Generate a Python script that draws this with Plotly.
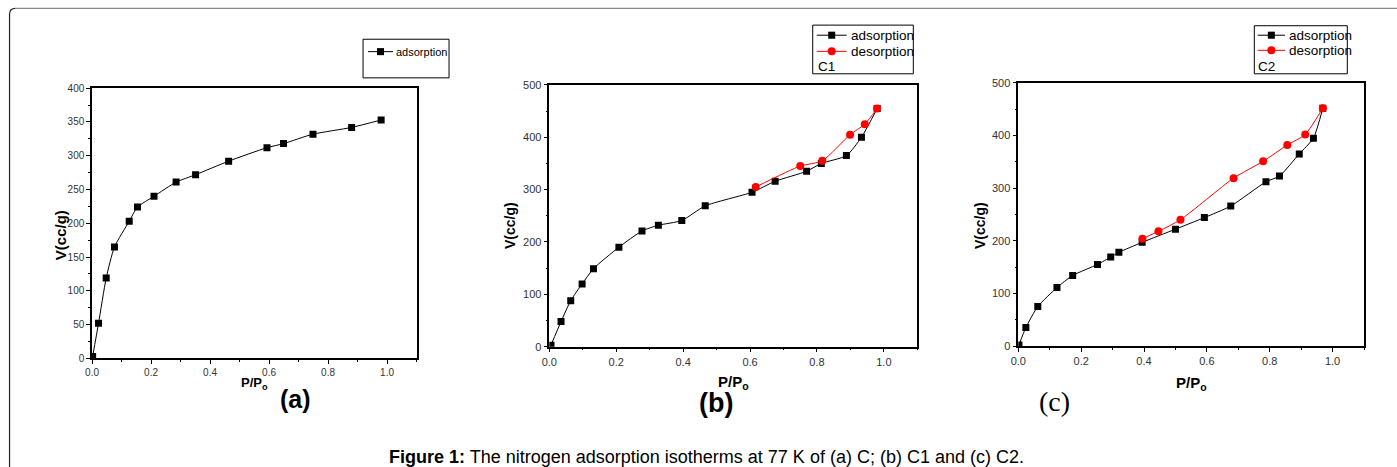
import plotly.graph_objects as go

# Target picture size. The page is photographed with the default 8 px body offset and
# scaled from a 1405x483 region, so target pixels are mapped back to figure pixels.
W, H = 1397, 467
OFF = 8
CAP_W, CAP_H = 1405, 483
FW, FH = CAP_W - OFF, CAP_H - OFF

# ---------------- data ----------------
# (a) sample C
a_ads_x = [0.002, 0.022, 0.048, 0.076, 0.126, 0.154, 0.210, 0.285, 0.351, 0.463, 0.593, 0.649, 0.749, 0.880, 0.980]
a_ads_y = [3, 52, 119, 165, 203, 224, 240, 261, 272, 292, 312, 318, 332, 342, 353]

# (b) sample C1
b_ads_x = [0.005, 0.035, 0.064, 0.098, 0.132, 0.208, 0.277, 0.326, 0.396, 0.466, 0.606, 0.675, 0.769, 0.813, 0.888, 0.933, 0.980]
b_ads_y = [3, 48, 88, 120, 149, 190, 221, 232, 241, 269, 295, 316, 335, 350, 365, 400, 455]
b_des_x = [0.980, 0.943, 0.899, 0.816, 0.750, 0.617]
b_des_y = [455, 425, 405, 355, 345, 305]

# (c) sample C2
c_ads_x = [0.002, 0.024, 0.062, 0.123, 0.173, 0.252, 0.294, 0.320, 0.394, 0.500, 0.592, 0.676, 0.788, 0.831, 0.894, 0.939, 0.969]
c_ads_y = [2, 35, 75, 111, 134, 155, 169, 178, 197, 222, 244, 266, 312, 323, 365, 395, 452]
c_des_x = [0.969, 0.913, 0.856, 0.779, 0.685, 0.516, 0.446, 0.395]
c_des_y = [452, 402, 382, 351, 319, 240, 218, 204]

x_ticks = [0.0, 0.2, 0.4, 0.6, 0.8, 1.0]
x_tick_labels = ["0.0", "0.2", "0.4", "0.6", "0.8", "1.0"]
a_y_ticks = [0, 50, 100, 150, 200, 250, 300, 350, 400]
bc_y_ticks = [0, 100, 200, 300, 400, 500]

series_names = ["adsorption", "desorption"]
sample_names = ["C1", "C2"]
caption = "<b>Figure 1:</b> The nitrogen adsorption isotherms at 77 K of (a) C; (b) C1 and (c) C2."

# ---------------- helpers ----------------
def px(x):
    return (x * CAP_W / W - OFF) / FW

def py(y):
    return 1 - (y * CAP_H / H - OFF) / FH

ARIAL = "Liberation Sans, Arial, sans-serif"
RED = "#ff0000"

fig = go.Figure()

line_ads = dict(color="black", width=1, shape="spline", smoothing=0.6)
line_des = dict(color=RED, width=1, shape="spline", smoothing=0.6)
m_sq = dict(symbol="square", size=7, color="black")
m_ci = dict(symbol="circle", size=8, color=RED)

fig.add_trace(go.Scatter(x=a_ads_x, y=a_ads_y, mode="lines+markers", name=series_names[0],
                         line=line_ads, marker=m_sq, xaxis="x", yaxis="y"))
fig.add_trace(go.Scatter(x=b_ads_x, y=b_ads_y, mode="lines+markers", name=series_names[0],
                         line=line_ads, marker=m_sq, xaxis="x2", yaxis="y2"))
fig.add_trace(go.Scatter(x=b_des_x, y=b_des_y, mode="lines+markers", name=series_names[1],
                         line=line_des, marker=m_ci, xaxis="x2", yaxis="y2"))
fig.add_trace(go.Scatter(x=c_ads_x, y=c_ads_y, mode="lines+markers", name=series_names[0],
                         line=line_ads, marker=m_sq, xaxis="x3", yaxis="y3"))
fig.add_trace(go.Scatter(x=c_des_x, y=c_des_y, mode="lines+markers", name=series_names[1],
                         line=line_des, marker=m_ci, xaxis="x3", yaxis="y3"))

def xaxis(dom, anchor, font):
    return dict(domain=dom, anchor=anchor, range=[0, 1.1], tickvals=x_ticks, ticktext=x_tick_labels,
                showline=True, mirror=True, linecolor="black", linewidth=1.5,
                ticks="outside", ticklen=4, tickwidth=1, tickcolor="black",
                minor=dict(ticks="outside", ticklen=2, tickwidth=1, tickcolor="black", dtick=0.1, tick0=0),
                showgrid=False, zeroline=False, tickfont=font)

def yaxis(dom, anchor, rng, tv, dt, font):
    return dict(domain=dom, anchor=anchor, range=rng, tickvals=tv,
                showline=True, mirror=True, linecolor="black", linewidth=1.5,
                ticks="outside", ticklen=4, tickwidth=1, tickcolor="black",
                minor=dict(ticks="outside", ticklen=2, tickwidth=1, tickcolor="black", dtick=dt, tick0=0),
                showgrid=False, zeroline=False, tickfont=font)

fa = dict(family=ARIAL, size=10, color="#333")
fb = dict(family=ARIAL, size=11, color="#333")

fig.update_layout(
    width=FW, height=FH, margin=dict(l=0, r=0, t=0, b=0),
    paper_bgcolor="white", plot_bgcolor="white", showlegend=False,
    xaxis=xaxis([px(92), px(416.5)], "y", fa),
    yaxis=yaxis([py(357.3), py(89.3)], "x", [0, 400], a_y_ticks, 25, fa),
    xaxis2=xaxis([px(549.3), px(917.3)], "y2", fb),
    yaxis2=yaxis([py(345.7), py(86)], "x2", [0, 500], bc_y_ticks, 50, fb),
    xaxis3=xaxis([px(1018.3), px(1364)], "y3", fb),
    yaxis3=yaxis([py(345), py(84)], "x3", [0, 500], bc_y_ticks, 50, fb),
)

shapes = []
ann = []

def A(text, x, y, size, family=ARIAL, angle=0, color="black", xanchor="center"):
    ann.append(dict(text=text, x=px(x), y=py(y), xref="paper", yref="paper", showarrow=False,
                    xanchor=xanchor, yanchor="middle", textangle=angle,
                    font=dict(family=family, size=size, color=color)))

def rect(x0, y0, x1, y1, color="black", fill="rgba(0,0,0,0)", width=1):
    shapes.append(dict(type="rect", xref="paper", yref="paper", x0=px(x0), x1=px(x1), y0=py(y1), y1=py(y0),
                       line=dict(color=color, width=width), fillcolor=fill))

def legend_entry(x0, x1, y, kind, label, tx, size):
    color = "black" if kind == "sq" else RED
    shapes.append(dict(type="line", xref="paper", yref="paper", x0=px(x0), x1=px(x1), y0=py(y), y1=py(y),
                       line=dict(color=color, width=1)))
    cx = (x0 + x1) / 2
    if kind == "sq":
        rect(cx - 3.5, y - 3.5, cx + 3.5, y + 3.5, color="black", fill="black", width=0)
    else:
        shapes.append(dict(type="circle", xref="paper", yref="paper", x0=px(cx - 4), x1=px(cx + 4),
                           y0=py(y + 4), y1=py(y - 4), line=dict(color=RED, width=0), fillcolor=RED))
    A(label, tx, y, size, xanchor="left")

# legend (a)
rect(363, 40.7, 449, 79)
legend_entry(368, 393, 53, "sq", series_names[0], 394, 11)
# legend (b)
rect(812.7, 26.7, 913.3, 75)
legend_entry(816.7, 846.7, 36.7, "sq", series_names[0], 848.5, 13.5)
legend_entry(816.7, 846.7, 52.7, "ci", series_names[1], 848.5, 13.5)
A(sample_names[0], 815.5, 68, 13.5, xanchor="left")
# legend (c)
rect(1254.3, 27.3, 1347.3, 75)
legend_entry(1257.7, 1285, 36.7, "sq", series_names[0], 1286.5, 13.5)
legend_entry(1257.7, 1285, 51.7, "ci", series_names[1], 1286.5, 13.5)
A(sample_names[1], 1256, 67.7, 13.5, xanchor="left")

# outer frame (left + rounded corner, top)
shapes.append(dict(type="path", xref="paper", yref="paper",
                   path=f"M {px(9.5)},{py(H + 5)} L {px(9.5)},{py(16)} Q {px(9.5)},{py(10)} {px(15.5)},{py(10)}",
                   line=dict(color="#222", width=1.2)))
shapes.append(dict(type="line", xref="paper", yref="paper", x0=px(15.5), x1=1, y0=py(10), y1=py(10),
                   line=dict(color="#8a8a8a", width=1.2)))

# y-axis titles
A("<b>V(cc/g)</b>", 60, 235, 15, angle=-90)
A("<b>V(cc/g)</b>", 510, 226, 14, angle=-90)
A("<b>V(cc/g)</b>", 980, 226, 14, angle=-90)
# x-axis titles
A("<b>P/P<sub>o</sub></b>", 254, 382, 13)
A("<b>P/P<sub>o</sub></b>", 733, 381, 15)
A("<b>P/P<sub>o</sub></b>", 1191, 382, 15)
# panel labels
A("<b>(a)</b>", 295, 398, 25)
A("<b>(b)</b>", 716, 402, 27)
A("(c)", 1054, 400, 28, family="Liberation Serif, Times New Roman, serif")
# caption
A(caption, 706.5, 455, 18)

fig.update_layout(shapes=shapes, annotations=ann)

fig.write_html("out.html")
